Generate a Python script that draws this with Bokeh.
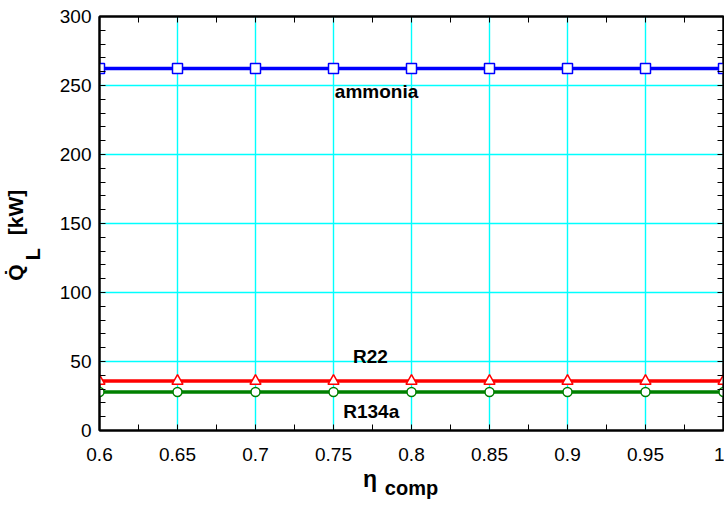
from bokeh.plotting import figure
from bokeh.models import Range1d, FixedTicker, LinearAxis, Label, CustomJSTickFormatter, Grid
from bokeh.embed import file_html
from bokeh.resources import INLINE

# ---- data ----
eta_comp = [0.6, 0.65, 0.7, 0.75, 0.8, 0.85, 0.9, 0.95, 1.0]
q_ammonia = [262.3, 262.3, 262.3, 262.3, 262.3, 262.3, 262.3, 262.3, 262.3]
q_r22 = [35.8, 35.8, 35.8, 35.8, 35.8, 35.8, 35.8, 35.8, 35.8]
q_r134a = [27.9, 27.9, 27.9, 27.9, 27.9, 27.9, 27.9, 27.9, 27.9]

x_ticks = [0.6, 0.65, 0.7, 0.75, 0.8, 0.85, 0.9, 0.95, 1.0]
x_minor = [0.6, 0.625, 0.65, 0.675, 0.7, 0.725, 0.75, 0.775, 0.8,
           0.825, 0.85, 0.875, 0.9, 0.925, 0.95, 0.975, 1.0]
y_ticks = [0, 50, 100, 150, 200, 250, 300]
y_minor = list(range(0, 301, 10))

FONT = "Liberation Sans"
NB = "\u00a0"

p = figure(width=724, height=502, output_backend="svg", toolbar_location=None,
           x_range=Range1d(0.6, 1.0), y_range=Range1d(0, 300),
           min_border_left=99, min_border_right=1, min_border_top=16, min_border_bottom=72)
p.background_fill_color = "white"
p.border_fill_color = "white"
p.outline_line_color = "black"
p.outline_line_width = 2
p.xgrid.visible = False
p.ygrid.visible = False

xt = FixedTicker(ticks=x_ticks, minor_ticks=x_minor)
yt = FixedTicker(ticks=y_ticks, minor_ticks=y_minor)

p.add_layout(Grid(dimension=0, ticker=xt, grid_line_color="#00FFFF", grid_line_width=1.4))
p.add_layout(Grid(dimension=1, ticker=yt, grid_line_color="#00FFFF", grid_line_width=1.4))

for ax, t in ((p.xaxis[0], xt), (p.yaxis[0], yt)):
    ax.ticker = t
    ax.major_tick_in = 0
    ax.major_tick_out = 0
    ax.minor_tick_in = 6
    ax.minor_tick_out = 0
    ax.minor_tick_line_color = "black"
    ax.minor_tick_line_width = 1
    ax.axis_line_width = 2
    ax.axis_line_color = "black"
    ax.major_label_text_font = FONT
    ax.major_label_text_font_size = "19px"
    ax.major_label_text_color = "black"
    ax.axis_label_text_font = FONT
    ax.axis_label_text_font_style = "bold"
    ax.axis_label_text_color = "black"
p.xaxis[0].major_label_standoff = 17
p.yaxis[0].major_label_standoff = 8
p.xaxis[0].formatter = CustomJSTickFormatter(code="return Number(tick.toFixed(2)).toString();")

# axis titles (eta_comp, Q-dot_L [kW]) built from pieces
p.xaxis[0].axis_label = "η" + NB * 13
p.xaxis[0].axis_label_text_font_size = "23px"
p.xaxis[0].axis_label_standoff = 2

p.yaxis[0].axis_label = "L" + NB * 11
p.yaxis[0].axis_label_text_font_size = "20px"
p.yaxis[0].axis_label_standoff = 13

# top & right axes: minor ticks only
for loc, t in (("above", FixedTicker(ticks=[], minor_ticks=x_minor)),
               ("right", FixedTicker(ticks=[], minor_ticks=y_minor))):
    ax = LinearAxis(ticker=t)
    ax.major_tick_in = 0
    ax.major_tick_out = 0
    ax.minor_tick_in = 6
    ax.minor_tick_out = 0
    ax.axis_line_width = 2
    ax.major_label_standoff = 0
    p.add_layout(ax, loc)

# secondary axes that only carry the subscript / main symbol of the titles
comp_ax = LinearAxis(ticker=FixedTicker(ticks=[], minor_ticks=[]), axis_line_color=None,
                     major_label_standoff=0, axis_label="comp",
                     axis_label_text_font=FONT, axis_label_text_font_style="bold",
                     axis_label_text_font_size="20px", axis_label_text_color="black",
                     axis_label_standoff=-18)
p.add_layout(comp_ax, "below")

q_ax = LinearAxis(ticker=FixedTicker(ticks=[], minor_ticks=[]), axis_line_color=None,
                  major_label_standoff=0, axis_label="Q\u0307" + NB * 5 + "[kW]" + NB * 4,
                  axis_label_text_font=FONT, axis_label_text_font_style="bold",
                  axis_label_text_font_size="21px", axis_label_text_color="black",
                  axis_label_standoff=-8)
p.add_layout(q_ax, "left")

# series
p.line(eta_comp, q_ammonia, line_color="#0000FF", line_width=3.5)
p.scatter(eta_comp, q_ammonia, marker="square", size=10, fill_color="white",
          line_color="#0000FF", line_width=1.5)
p.line(eta_comp, q_r22, line_color="#FF0000", line_width=3.5)
p.scatter(eta_comp, q_r22, marker="triangle", size=11, fill_color="white",
          line_color="#FF0000", line_width=1.5)
p.line(eta_comp, q_r134a, line_color="#008000", line_width=3.5)
p.scatter(eta_comp, q_r134a, marker="circle", size=9, fill_color="white",
          line_color="#008000", line_width=1.5)

def lab(x, y, text, size="19px"):
    p.add_layout(Label(x=x, y=y, text=text, text_font=FONT, text_font_size=size,
                       text_font_style="bold", text_color="black",
                       text_align="center", text_baseline="alphabetic"))

lab(0.7776, 245.5, "ammonia")
lab(0.7737, 53.4, "R22")
lab(0.7742, 13.6, "R134a")

open("out.html", "w").write(file_html(p, INLINE))
